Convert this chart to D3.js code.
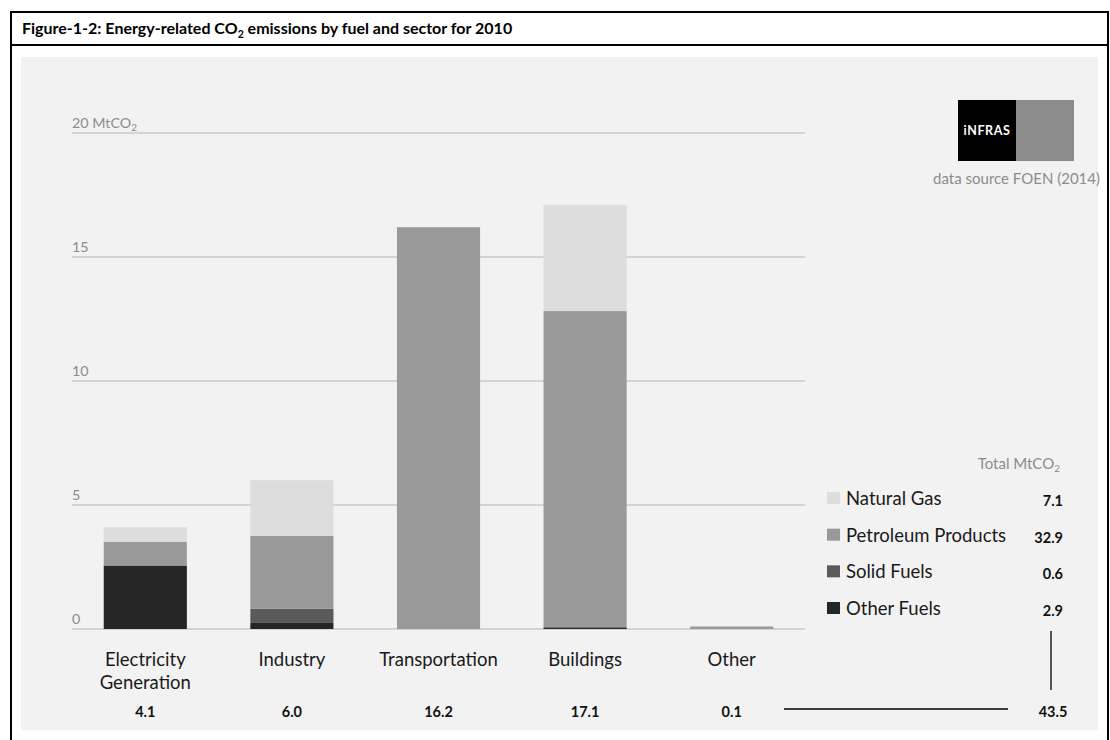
<!DOCTYPE html>
<html>
<head>
<meta charset="utf-8">
<script src="https://cdn.jsdelivr.net/npm/d3@7"></script>
<style>
  html, body { margin: 0; padding: 0; background: #ffffff; }
  svg { display: block; }
  text { font-family: Lato, "Open Sans", sans-serif; }
</style>
</head>
<body>
<svg id="chart" width="1110" height="740"></svg>
<script>
// Energy-related CO2 emissions by fuel and sector, 2010 (MtCO2)
const sectors = ["Electricity Generation", "Industry", "Transportation", "Buildings", "Other"];
const fuels = ["Natural Gas", "Petroleum Products", "Solid Fuels", "Other Fuels"];

const naturalGas   = [0.58, 2.25, 0.00, 4.28, 0.00];
const petroleum    = [0.95, 2.93, 16.20, 12.74, 0.10];
const solidFuels   = [0.02, 0.55, 0.00, 0.03, 0.00];
const otherFuels   = [2.55, 0.27, 0.00, 0.05, 0.00];

const yTicks = [0, 5, 10, 15, 20];
const fuelColors = ["#dddddd", "#999999", "#5a5a5a", "#262626"];

const svg = d3.select("#chart");

// frame and title bar
svg.append("rect").attr("x", 21).attr("y", 57).attr("width", 1077).attr("height", 673)
  .attr("fill", "#f2f2f2");
svg.append("rect").attr("x", 11).attr("y", 12).attr("width", 1097).attr("height", 740)
  .attr("fill", "none").attr("stroke", "#000").attr("stroke-width", 2);
svg.append("line").attr("x1", 11).attr("x2", 1108).attr("y1", 45).attr("y2", 45)
  .attr("stroke", "#000").attr("stroke-width", 2);

const title = svg.append("text").attr("x", 22).attr("y", 34)
  .attr("font-size", 16).attr("font-weight", "bold").attr("fill", "#000");
title.append("tspan").text("Figure-1-2: Energy-related CO");
title.append("tspan").attr("font-size", 10.5).attr("dy", 4).text("2");
title.append("tspan").attr("dy", -4).text(" emissions by fuel and sector for 2010");

// build table rows for stacking
const rows = sectors.map((s, i) => ({
  sector: s,
  "Natural Gas": naturalGas[i],
  "Petroleum Products": petroleum[i],
  "Solid Fuels": solidFuels[i],
  "Other Fuels": otherFuels[i]
}));

const stackOrder = ["Other Fuels", "Solid Fuels", "Petroleum Products", "Natural Gas"];
const series = d3.stack().keys(stackOrder)(rows);
const color = d3.scaleOrdinal().domain(fuels).range(fuelColors);

const x = d3.scaleBand().domain(sectors).range([72, 805])
  .paddingInner(0.433).paddingOuter(0.2165);
const y = d3.scaleLinear().domain([0, 20]).range([629, 133]);

// gridlines
const grid = svg.append("g");
grid.selectAll("line").data(yTicks).join("line")
  .attr("x1", 72).attr("x2", 805)
  .attr("y1", d => y(d)).attr("y2", d => y(d))
  .attr("stroke", "#c9c9c9").attr("stroke-width", 1.5);

// tick labels above the gridlines
const tl = grid.selectAll("text").data(yTicks).join("text")
  .attr("x", 72).attr("y", d => y(d) - 5)
  .attr("font-size", 14.3).attr("fill", "#8c8c8c");
tl.each(function(d) {
  const t = d3.select(this);
  if (d === 20) {
    t.append("tspan").text("20 MtCO");
    t.append("tspan").attr("font-size", 10).attr("dy", 3).text("2");
  } else {
    t.text(d);
  }
});

// stacked bars
svg.append("g").selectAll("g").data(series).join("g")
  .attr("fill", d => color(d.key))
  .selectAll("rect").data(d => d).join("rect")
  .attr("x", d => x(d.data.sector))
  .attr("width", x.bandwidth())
  .attr("y", d => y(d[1]))
  .attr("height", d => Math.max(0, y(d[0]) - y(d[1])));

// category labels
const cat = svg.append("g").selectAll("text").data(sectors).join("text")
  .attr("x", d => x(d) + x.bandwidth() / 2)
  .attr("y", 666).attr("text-anchor", "middle")
  .attr("font-size", 18.5).attr("fill", "#1a1a1a");
cat.each(function(d) {
  const words = d.split(" ");
  const t = d3.select(this);
  words.forEach((w, i) => {
    t.append("tspan").attr("x", x(d) + x.bandwidth() / 2).attr("dy", i ? 23 : 0).text(w);
  });
});

// sector totals
const sectorTotals = rows.map(r => d3.sum(stackOrder, k => r[k]));
svg.append("g").selectAll("text").data(sectors).join("text")
  .attr("x", d => x(d) + x.bandwidth() / 2)
  .attr("y", 717).attr("text-anchor", "middle")
  .attr("font-size", 14.5).attr("font-weight", "bold").attr("fill", "#111")
  .text((d, i) => sectorTotals[i].toFixed(1));

// legend with fuel totals
const fuelTotals = [d3.sum(naturalGas), d3.sum(petroleum), d3.sum(solidFuels), d3.sum(otherFuels)];
const lg = svg.append("g");
const th = lg.append("text").attr("x", 1060).attr("y", 469).attr("text-anchor", "end")
  .attr("font-size", 15).attr("fill", "#8c8c8c");
th.append("tspan").text("Total MtCO");
th.append("tspan").attr("font-size", 10).attr("dy", 3).text("2");

const rowY = d3.scalePoint().domain(fuels).range([505, 615]);
lg.selectAll("rect").data(fuels).join("rect")
  .attr("x", 827).attr("y", d => rowY(d) - 13).attr("width", 13).attr("height", 12)
  .attr("fill", d => color(d));
lg.selectAll("text.name").data(fuels).join("text").attr("class", "name")
  .attr("x", 846).attr("y", d => rowY(d))
  .attr("font-size", 18.5).attr("fill", "#1a1a1a").text(d => d);
lg.selectAll("text.val").data(fuels).join("text").attr("class", "val")
  .attr("x", 1063).attr("y", d => rowY(d) + 1).attr("text-anchor", "end")
  .attr("font-size", 14.5).attr("font-weight", "bold").attr("fill", "#111")
  .text((d, i) => fuelTotals[i].toFixed(1));

// grand total connectors
const grandTotal = d3.sum(sectorTotals);
svg.append("line").attr("x1", 1051).attr("x2", 1051).attr("y1", 631).attr("y2", 690)
  .attr("stroke", "#000").attr("stroke-width", 1.3);
svg.append("line").attr("x1", 784).attr("x2", 1008).attr("y1", 709).attr("y2", 709)
  .attr("stroke", "#000").attr("stroke-width", 1.3);
svg.append("text").attr("x", 1053).attr("y", 717).attr("text-anchor", "middle")
  .attr("font-size", 14.5).attr("font-weight", "bold").attr("fill", "#111")
  .text(grandTotal.toFixed(1));

// logo block
svg.append("rect").attr("x", 958).attr("y", 100).attr("width", 58).attr("height", 61).attr("fill", "#000");
svg.append("rect").attr("x", 1016).attr("y", 100).attr("width", 58).attr("height", 61).attr("fill", "#8c8c8c");
svg.append("text").attr("x", 987).attr("y", 135).attr("text-anchor", "middle")
  .attr("font-size", 12.5).attr("font-weight", "bold").attr("letter-spacing", 0.6)
  .attr("fill", "#fff").text("iNFRAS");
svg.append("text").attr("x", 1100).attr("y", 184).attr("text-anchor", "end")
  .attr("font-size", 15).attr("fill", "#8c8c8c").text("data source FOEN (2014)");
</script>
</body>
</html>
